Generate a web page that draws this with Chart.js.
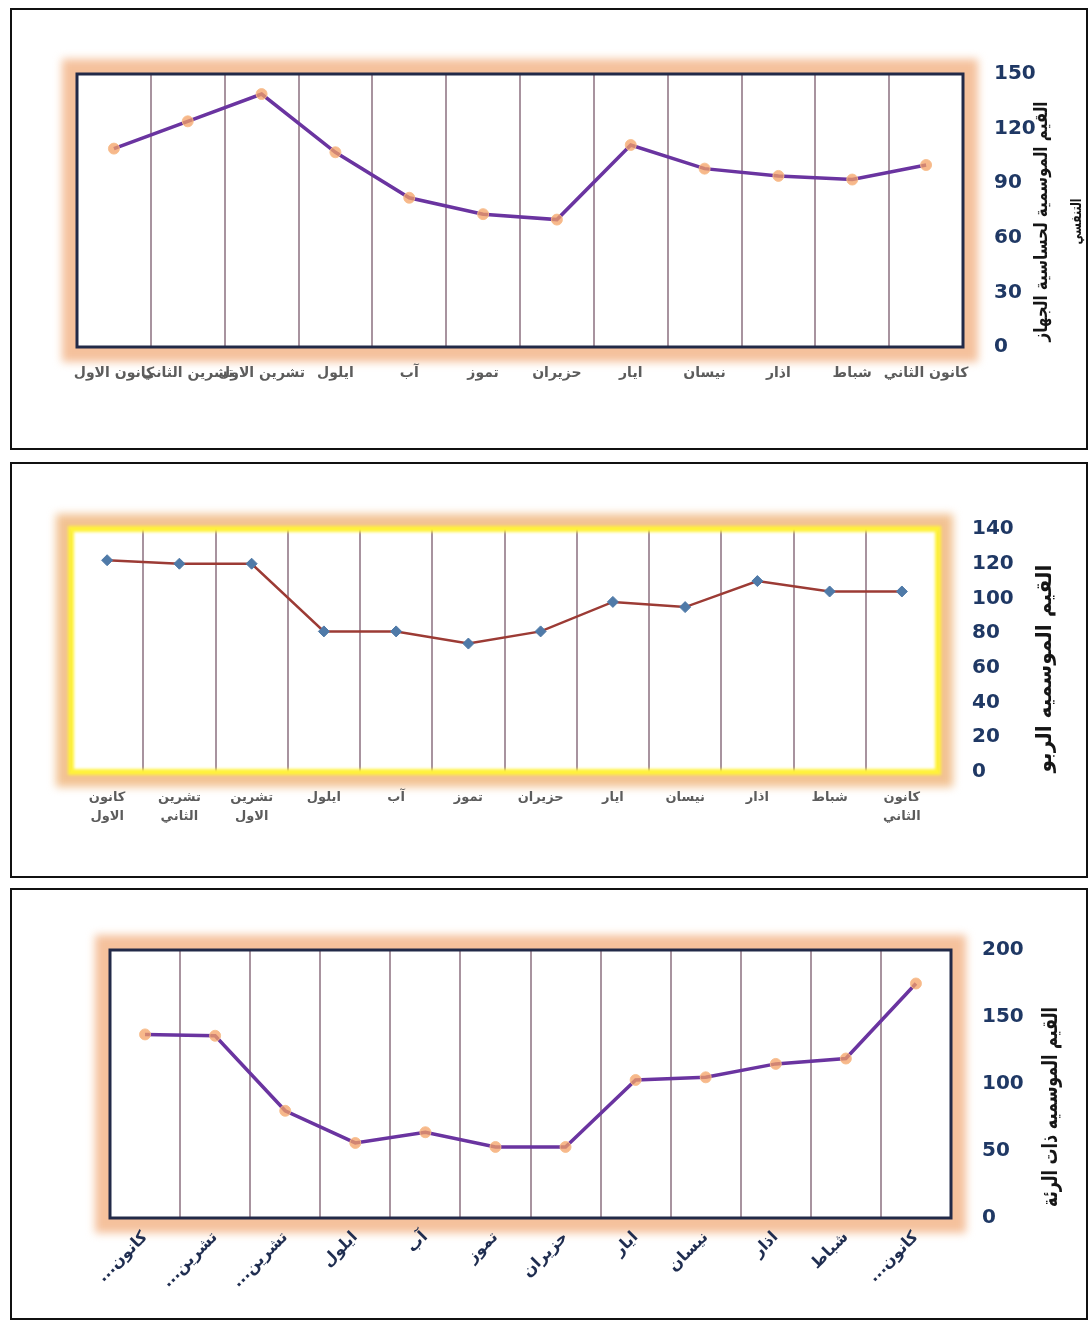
<!DOCTYPE html>
<html lang="ar">
<head>
<meta charset="utf-8">
<title>القيم الموسمية</title>
<script src="https://cdn.jsdelivr.net/npm/chart.js@4.4.0/dist/chart.umd.min.js"></script>
<style>
  body { margin: 0; background: #fff; width: 1090px; height: 1322px; position: relative; overflow: hidden; }
  .panel { position: absolute; left: 10px; width: 1074px; border: 2px solid #111; background: #fff; }
  .panel canvas { display: block; }
</style>
</head>
<body>
<div class="panel" style="top:8px;height:438px"><canvas id="chart1" width="1074" height="438" dir="rtl"></canvas></div>
<div class="panel" style="top:462px;height:412px"><canvas id="chart2" width="1074" height="412" dir="rtl"></canvas></div>
<div class="panel" style="top:888px;height:428px"><canvas id="chart3" width="1074" height="428" dir="rtl"></canvas></div>
<script>
// months from January; the x axis is reversed so January sits next to the value axis
const months = ['كانون الثاني', 'شباط', 'اذار', 'نيسان', 'ايار', 'حزيران', 'تموز', 'آب', 'ايلول', 'تشرين الاول', 'تشرين الثاني', 'كانون الاول'];
const shortMonths = ['كانون...', 'شباط', 'اذار', 'نيسان', 'ايار', 'حزيران', 'تموز', 'آب', 'ايلول', 'تشرين...', 'تشرين...', 'كانون...'];

const respiratory = [100, 92, 94, 98, 111, 70, 73, 82, 107, 139, 124, 109];
const asthma = [104, 104, 110, 95, 98, 81, 74, 81, 81, 120, 120, 122];
const pneumonia = [175, 119, 115, 105, 103, 53, 53, 64, 56, 80, 136, 137];

const ticks1 = [0, 30, 60, 90, 120, 150];
const ticks2 = [0, 20, 40, 60, 80, 100, 120, 140];
const ticks3 = [0, 50, 100, 150, 200];

const title1 = ['القيم الموسمية لحساسية الجهاز', 'التنفسي'];
const title2 = ['القيم الموسميه الربو'];
const title3 = ['القيم الموسميه ذات الرئة'];


// glow behind the plot area and the frame round it
const plotFrame = {
    id: 'plotFrame',
    beforeDraw(chart, args, opts) {
        const { ctx, chartArea: a } = chart;
        const w = a.right - a.left, h = a.bottom - a.top;
        ctx.save();
        ctx.filter = 'blur(4px)';
        ctx.fillStyle = opts.glow;
        ctx.fillRect(a.left - 15, a.top - 15, w + 30, h + 30);
        ctx.restore();
        ctx.save();
        ctx.fillStyle = '#fff';
        ctx.fillRect(a.left, a.top, w, h);
        ctx.restore();
    },
    beforeDatasetsDraw(chart, args, opts) {
        const { ctx, chartArea: a } = chart;
        ctx.save();
        if (opts.blur) ctx.filter = 'blur(' + opts.blur + 'px)';
        ctx.strokeStyle = opts.border;
        ctx.lineWidth = opts.borderWidth;
        ctx.strokeRect(a.left, a.top, a.right - a.left, a.bottom - a.top);
        ctx.restore();
    }
};

// value axis title, written bottom to top on the right
const sideTitle = {
    id: 'sideTitle',
    afterDraw(chart, args, opts) {
        const { ctx, chartArea: a } = chart;
        ctx.save();
        ctx.fillStyle = '#151515';
        ctx.textAlign = 'center';
        ctx.textBaseline = 'middle';
        opts.lines.forEach((line, i) => {
            ctx.save();
            ctx.font = opts.fonts[i];
            ctx.translate(a.right + opts.offsets[i], (a.top + a.bottom) / 2 + opts.dy);
            ctx.rotate(-Math.PI / 2);
            ctx.fillText(line, 0, 0, opts.widths[i]);
            ctx.restore();
        });
        ctx.restore();
    }
};

function makeChart(id, o) {
    return new Chart(document.getElementById(id), {
        type: 'line',
        data: {
            labels: o.labels,
            datasets: [{
                data: o.values,
                borderColor: o.line,
                borderWidth: o.lineWidth,
                pointStyle: o.pointStyle,
                pointRadius: o.pointRadius,
                pointBackgroundColor: o.pointFill,
                pointBorderColor: o.pointBorder,
                pointBorderWidth: 1,
                tension: 0
            }]
        },
        options: {
            responsive: false,
            animation: false,
            devicePixelRatio: 1,
            layout: { padding: o.padding },
            plugins: {
                legend: { display: false },
                tooltip: { enabled: false },
                plotFrame: o.frame,
                sideTitle: o.title
            },
            scales: {
                x: {
                    reverse: true,
                    offset: true,
                    grid: { offset: true, color: '#a8939f', lineWidth: 2, drawTicks: false },
                    border: { display: false },
                    ticks: {
                        autoSkip: false,
                        maxRotation: o.rot,
                        minRotation: o.rot,
                        padding: o.xPad,
                        color: o.xColor,
                        font: o.xFont
                    },
                    afterFit: s => { s.height = o.xHeight; }
                },
                y: {
                    position: 'right',
                    min: 0,
                    max: o.ticks[o.ticks.length - 1],
                    afterBuildTicks: s => { s.ticks = o.ticks.map(v => ({ value: v })); },
                    grid: { display: false },
                    border: { display: false },
                    ticks: {
                        padding: o.yPad,
                        color: '#1f3864',
                        font: { family: 'DejaVu Sans', size: 20, weight: 'bold' }
                    },
                    afterFit: s => { s.width = 80; }
                }
            }
        },
        plugins: [plotFrame, sideTitle]
    });
}


makeChart('chart1', {
    labels: months,
    values: respiratory,
    ticks: ticks1,
    line: '#6a34a0', lineWidth: 3.5,
    pointStyle: 'circle', pointRadius: 5.5,
    pointFill: 'rgba(244,160,100,0.75)', pointBorder: 'rgba(247,190,140,0.9)',
    padding: { left: 65, top: 64, right: 43, bottom: 0 },
    xHeight: 101, xPad: 18, rot: 0,
    xColor: '#5c5c5c', xFont: { family: 'DejaVu Sans', size: 14, weight: 'bold' },
    yPad: 23,
    frame: { glow: '#f5c19c', border: '#222a48', borderWidth: 3 },
    title: { lines: title1, offsets: [79, 114], widths: [240, 46], dy: 11, fonts: ['bold 18px "DejaVu Sans"', 'bold 15px "DejaVu Sans"'] }
});

makeChart('chart2', {
    labels: months.map(m => m.split(' ')),
    values: asthma,
    ticks: ticks2,
    line: '#9c3b35', lineWidth: 2.5,
    pointStyle: 'rectRot', pointRadius: 5.5,
    pointFill: '#4f7aa8', pointBorder: '#4f7aa8',
    padding: { left: 59, top: 65, right: 68, bottom: 0 },
    xHeight: 104, xPad: 17, rot: 0,
    xColor: '#5c5c5c', xFont: { family: 'DejaVu Sans', size: 13, weight: 'bold', lineHeight: 1.4 },
    yPad: 26,
    frame: { glow: '#f2c292', border: '#fff23a', borderWidth: 6, blur: 1.5 },
    title: { lines: title2, offsets: [108], widths: [208], dy: 18, fonts: ['bold 21px "DejaVu Sans"'] }
});

makeChart('chart3', {
    labels: shortMonths,
    values: pneumonia,
    ticks: ticks3,
    line: '#6a34a0', lineWidth: 3.5,
    pointStyle: 'circle', pointRadius: 5.5,
    pointFill: 'rgba(244,160,100,0.75)', pointBorder: 'rgba(247,190,140,0.9)',
    padding: { left: 98, top: 60, right: 55, bottom: 0 },
    xHeight: 100, xPad: 10, rot: 45,
    xColor: '#1f2d50', xFont: { family: 'DejaVu Sans', size: 16, weight: 'bold' },
    yPad: 23,
    frame: { glow: '#f5c19c', border: '#222a48', borderWidth: 3 },
    title: { lines: title3, offsets: [101], widths: [200], dy: 23, fonts: ['bold 21px "DejaVu Sans"'] }
});
</script>
</body>
</html>
